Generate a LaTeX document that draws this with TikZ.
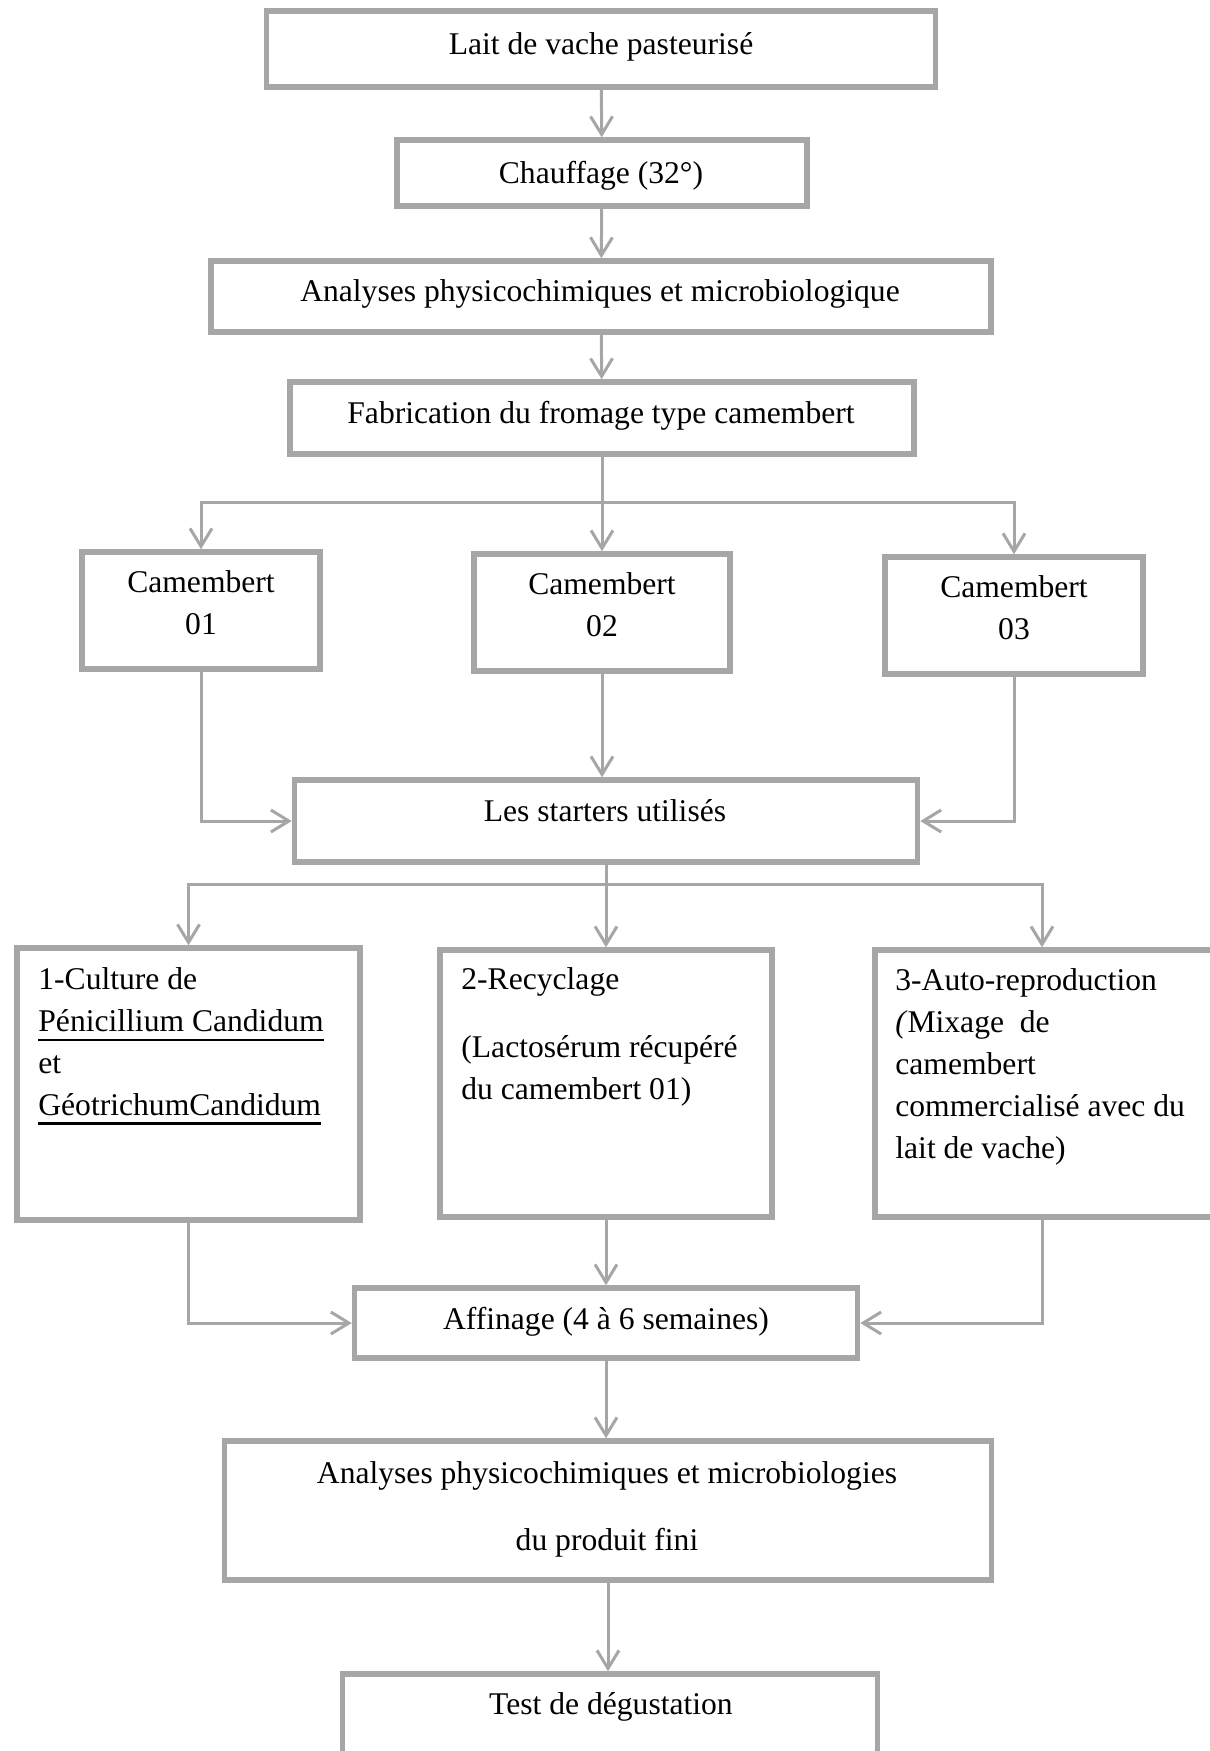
\documentclass[tikz,border=0pt]{standalone}
\usepackage{fontspec}
\setmainfont{Liberation Serif}
\usetikzlibrary{arrows.meta, positioning}

\definecolor{rahmen}{HTML}{A6A6A6}
\newcommand{\strich}[1]{\setbox0\hbox{#1}\rlap{\rule[-4.8pt]{\wd0}{1.2pt}}\box0}

\tikzset{
  kasten/.style={draw=rahmen, line width=2.75pt, inner sep=0pt, fill=white},
  txt/.style={font=\fontsize{15.8pt}{20.9pt}\selectfont, inner sep=0pt},
  linie/.style={draw=rahmen, line width=1.5pt},
  pfeil/.style={linie, -{Straight Barb[length=9pt,width=11pt]}},
}

\begin{document}
\begin{tikzpicture}[x=0.5pt, y=-0.5pt]
  \useasboundingbox (0,0) rectangle (1210,1751);
  \clip (0,0) rectangle (1210,1751);

  %Kaesten oben
  \node[kasten, minimum width=334.5pt, minimum height=38pt] (milch) at (601,49) {};
  \node[kasten, minimum width=205pt, minimum height=33pt] (chauff) at (602,173) {};
  \node[kasten, minimum width=390pt, minimum height=35.5pt] (ana1) at (601,296.5) {};
  \node[kasten, minimum width=312pt, minimum height=36pt] (fabr) at (602,418) {};

  %Camemberts
  \node[kasten, minimum width=119pt, minimum height=58.5pt] (cam1) at (201,610.5) {};
  \node[kasten, minimum width=128pt, minimum height=58.5pt] (cam2) at (602,612.5) {};
  \node[kasten, minimum width=129pt, minimum height=58.5pt] (cam3) at (1014,615.5) {};

  \node[kasten, minimum width=311.5pt, minimum height=41pt] (start) at (606,821) {};

  %Starter (der dritte reicht ueber den Rand)
  \node[kasten, minimum width=171.5pt, minimum height=136pt] (st1) at (188.5,1084) {};
  \node[kasten, minimum width=166pt, minimum height=133.5pt] (st2) at (606,1083.5) {};
  \node[kasten, minimum width=187.5pt, minimum height=133.5pt] (st3) at (1062.5,1083.5) {};
  \coordinate (x3) at (1042,0);

  %Kaesten unten
  \node[kasten, minimum width=251.5pt, minimum height=35pt] (affi) at (606,1323) {};
  \node[kasten, minimum width=383.5pt, minimum height=69.5pt] (ana2) at (608,1510.5) {};
  \node[kasten, minimum width=267.5pt, minimum height=61.5pt] (degu) at (610,1735.5) {};

  %Texte (base = letzte Zeile)
  \node[txt, anchor=base] (tmilch) at (601,54) {Lait de vache pasteurisé};
  \node[txt, anchor=base] (tchauff) at (601,183) {Chauffage (32°)};
  \node[txt, anchor=base] (tana1) at (600,301) {Analyses physicochimiques et microbiologique};
  \node[txt, anchor=base] (tfabr) at (601,423) {Fabrication du fromage type camembert};
  \node[txt, anchor=base, align=center] (tcam1) at (201,634) {Camembert\\01};
  \node[txt, anchor=base, align=center] (tcam2) at (602,636) {Camembert\\02};
  \node[txt, anchor=base, align=center] (tcam3) at (1014,639) {Camembert\\03};
  \node[txt, anchor=base] (tstart) at (605,821) {Les starters utilisés};
  \node[txt, anchor=base west, align=left] (tst1) at (38,1115)
    {1-Culture de\\\strich{Pénicillium Candidum}\\et\\\strich{GéotrichumCandidum}};
  \node[txt, anchor=base west, align=left] (tst2) at (461,1099)
    {2-Recyclage\\[13pt](Lactosérum récupéré\\du camembert 01)};
  \node[txt, anchor=base west, align=left] (tst3) at (895,1158)
    {3-Auto-reproduction\\\textit{(}Mixage\ \ de\\camembert\\commercialisé avec du\\lait de vache)};
  \node[txt, anchor=base] (taffi) at (606,1329) {Affinage (4 à 6 semaines)};
  \node[txt, anchor=base, align=center] (tana2) at (607,1550)
    {Analyses physicochimiques et microbiologies\\[12.6pt]du produit fini};
  \node[txt, anchor=base] (tdegu) at (611,1714) {Test de dégustation};

  %Pfeile
  \draw[pfeil] (milch) -- (chauff);
  \draw[pfeil] (chauff) -- (ana1);
  \draw[pfeil] (ana1) -- (fabr);

  \coordinate (k1) at (602,502);
  \draw[linie] (fabr) -- (k1);
  \draw[pfeil] (k1) -| (cam1);
  \draw[pfeil] (k1) -- (cam2);
  \draw[pfeil] (k1) -| (cam3);

  \draw[pfeil] (cam1) |- (start);
  \draw[pfeil] (cam2.south) -- (cam2.south |- start.north);
  \draw[pfeil] (cam3) |- (start);

  \coordinate (k2) at (606,884);
  \draw[linie] (start) -- (k2);
  \draw[pfeil] (k2) -| (st1);
  \draw[pfeil] (k2) -- (st2);
  \draw[pfeil] (k2) -| (st3.north -| x3);

  \draw[pfeil] (st1) |- (affi);
  \draw[pfeil] (st2) -- (affi);
  \draw[pfeil] (st3.south -| x3) |- (affi);

  \draw[pfeil] (affi.south) -- (affi.south |- ana2.north);
  \draw[pfeil] (ana2.south) -- (ana2.south |- degu.north);
\end{tikzpicture}
\end{document}
